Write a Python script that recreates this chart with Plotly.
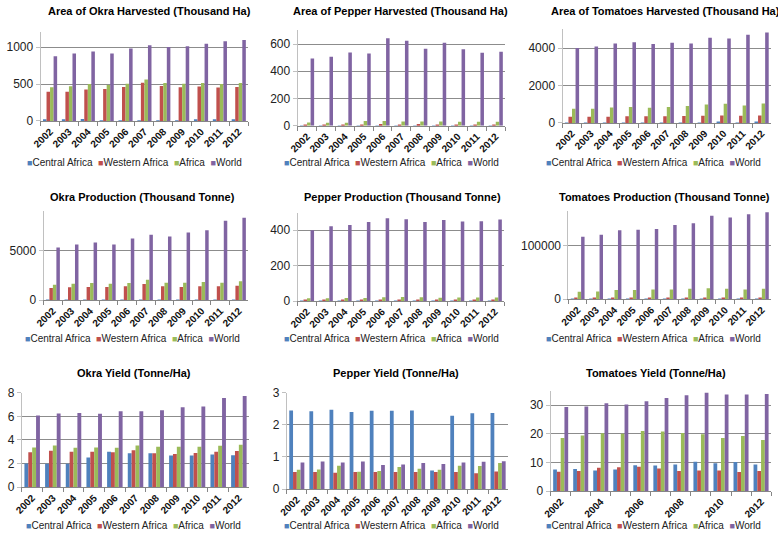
import plotly.graph_objects as go

W, H = 778, 538

years = ["2002", "2003", "2004", "2005", "2006", "2007", "2008", "2009", "2010", "2011", "2012"]
series_names = ["Central Africa", "Western Africa", "Africa", "World"]
colors = ["#4F81BD", "#C0504D", "#9BBB59", "#8064A2"]

# ---- Area harvested (Thousand Ha)
okra_area_central = [15, 15, 28, 3, 3, 3, 3, 3, 12, 12, 12]
okra_area_western = [395, 395, 425, 434, 460, 518, 474, 456, 465, 452, 460]
okra_area_africa = [456, 470, 500, 487, 504, 561, 513, 504, 513, 500, 513]
okra_area_world = [877, 912, 939, 912, 982, 1026, 1000, 1013, 1044, 1079, 1096]

pepper_area_central = [1, 1, 1, 1, 1, 1, 1, 1, 1, 1, 1]
pepper_area_western = [8, 8, 8, 8, 13, 8, 13, 8, 8, 8, 8]
pepper_area_africa = [24, 22, 23, 35, 36, 32, 32, 32, 30, 30, 30]
pepper_area_world = [493, 507, 538, 531, 643, 624, 565, 610, 562, 536, 543]

tomato_area_central = [20, 20, 20, 20, 20, 20, 20, 20, 50, 20, 50]
tomato_area_western = [330, 330, 330, 360, 360, 360, 370, 380, 400, 380, 400]
tomato_area_africa = [760, 760, 830, 850, 815, 850, 900, 990, 1020, 935, 1040]
tomato_area_world = [4000, 4090, 4240, 4310, 4225, 4280, 4240, 4550, 4520, 4710, 4830]

# ---- Production (Thousand Tonne)
okra_prod_central = [30, 30, 50, 10, 10, 10, 10, 10, 30, 30, 30]
okra_prod_western = [1225, 1290, 1325, 1325, 1390, 1620, 1390, 1325, 1390, 1390, 1460]
okra_prod_africa = [1556, 1655, 1720, 1655, 1720, 2050, 1755, 1755, 1820, 1755, 1890]
okra_prod_world = [5300, 5600, 5800, 5600, 6190, 6560, 6390, 6790, 7020, 7980, 8280]

pepper_prod_central = [1, 1, 1, 1, 1, 1, 1, 1, 1, 1, 1]
pepper_prod_western = [5, 5, 5, 5, 6, 5, 6, 5, 5, 5, 5]
pepper_prod_africa = [16, 16, 18, 18, 22, 23, 22, 19, 21, 21, 21]
pepper_prod_world = [400, 422, 429, 446, 468, 462, 446, 458, 449, 451, 460]

tomato_prod_central = [800, 800, 800, 800, 800, 800, 800, 800, 800, 800, 800]
tomato_prod_western = [2000, 2000, 2500, 2500, 2500, 2500, 2500, 2500, 2500, 2500, 2500]
tomato_prod_africa = [13940, 14545, 16970, 16970, 18180, 18180, 19390, 20600, 19390, 18180, 19390]
tomato_prod_world = [116360, 120000, 128480, 129100, 130900, 138180, 141200, 155150, 152120, 158180, 161800]

# ---- Yield (Tonne/Ha)
okra_yield_central = [2.01, 1.99, 1.99, 2.51, 3.0, 2.87, 2.87, 2.68, 2.68, 2.76, 2.70]
okra_yield_western = [2.95, 3.09, 3.0, 3.0, 2.95, 3.12, 2.87, 2.81, 2.9, 3.0, 3.06]
okra_yield_africa = [3.37, 3.53, 3.34, 3.37, 3.34, 3.53, 3.42, 3.42, 3.42, 3.50, 3.59]
okra_yield_world = [6.07, 6.23, 6.29, 6.21, 6.43, 6.43, 6.51, 6.76, 6.84, 7.56, 7.72]

pepper_yield_central = [2.45, 2.42, 2.47, 2.40, 2.44, 2.44, 2.45, 0.58, 2.28, 2.36, 2.37]
pepper_yield_western = [0.53, 0.53, 0.51, 0.53, 0.53, 0.53, 0.53, 0.53, 0.53, 0.49, 0.55]
pepper_yield_africa = [0.60, 0.61, 0.73, 0.54, 0.56, 0.69, 0.63, 0.60, 0.73, 0.72, 0.81]
pepper_yield_world = [0.83, 0.86, 0.83, 0.86, 0.75, 0.77, 0.81, 0.78, 0.83, 0.85, 0.87]

tomato_yield_central = [7.56, 7.67, 7.22, 7.56, 9.02, 8.91, 9.25, 10.26, 9.70, 10.15, 9.25]
tomato_yield_western = [6.77, 6.99, 8.12, 8.35, 8.46, 7.89, 6.99, 7.22, 7.22, 6.65, 6.99]
tomato_yield_africa = [18.5, 19.4, 20.2, 20.0, 21.0, 20.75, 20.3, 19.85, 18.5, 19.2, 17.8]
tomato_yield_world = [29.3, 29.5, 30.6, 30.2, 31.35, 32.5, 33.4, 34.3, 33.7, 33.7, 33.9]

tomato_yield_ticktext = ["2002", "", "2004", "", "2006", "", "2008", "", "2010", "", "2012"]

panels = [
    dict(title="Area of Okra Harvested (Thousand Ha)",
         data=[okra_area_central, okra_area_western, okra_area_africa, okra_area_world],
         yrange=[0, 1200], dtick=500, xpx=[32, 242], ypx=[26, 117], tx=142, ty=-4, tanchor="top", lx=127, ly=160),
    dict(title="Area of Pepper Harvested (Thousand Ha)",
         data=[pepper_area_central, pepper_area_western, pepper_area_africa, pepper_area_world],
         yrange=[0, 700], dtick=200, xpx=[292, 502], ypx=[24, 122], tx=396, ty=-4, tanchor="top", lx=387, ly=160),
    dict(title="Area of Tomatoes Harvested (Thousand Ha)",
         data=[tomato_area_central, tomato_area_western, tomato_area_africa, tomato_area_world],
         yrange=[0, 5000], dtick=2000, xpx=[560, 771], ypx=[23, 119], tx=664, ty=-4, tanchor="top", lx=652, ly=160),
    dict(title="Okra Production (Thousand Tonne)",
         data=[okra_prod_central, okra_prod_western, okra_prod_africa, okra_prod_world],
         yrange=[0, 9000], dtick=5000, xpx=[35, 242], ypx=[209, 301], tx=135, ty=195, tanchor="middle", lx=125, ly=340),
    dict(title="Pepper Production (Thousand Tonne)",
         data=[pepper_prod_central, pepper_prod_western, pepper_prod_africa, pepper_prod_world],
         yrange=[0, 500], dtick=200, xpx=[292, 501], ypx=[211, 302], tx=398, ty=195, tanchor="middle", lx=387, ly=340),
    dict(title="Tomatoes Production (Thousand Tonne)",
         data=[tomato_prod_central, tomato_prod_western, tomato_prod_africa, tomato_prod_world],
         yrange=[0, 165000], dtick=100000, xpx=[566, 771], ypx=[209, 300], tx=663, ty=195, tanchor="middle", lx=652, ly=340),
    dict(title="Okra Yield (Tonne/Ha)",
         data=[okra_yield_central, okra_yield_western, okra_yield_africa, okra_yield_world],
         yrange=[0, 8], dtick=2, xpx=[13, 243], ypx=[396, 493], tx=126, ty=376, tanchor="middle", lx=126, ly=532),
    dict(title="Pepper Yield (Tonne/Ha)",
         data=[pepper_yield_central, pepper_yield_western, pepper_yield_africa, pepper_yield_world],
         yrange=[0, 3], dtick=1, xpx=[281, 505], ypx=[396, 495], tx=392, ty=376, tanchor="middle", lx=387, ly=532),
    dict(title="Tomatoes Yield (Tonne/Ha)",
         data=[tomato_yield_central, tomato_yield_western, tomato_yield_africa, tomato_yield_world],
         yrange=[0, 35], dtick=10, xpx=[548, 771], ypx=[394, 497], tx=655, ty=376, tanchor="middle", lx=652, ly=532,
         ticktext=tomato_yield_ticktext),
]

FONT = "Liberation Sans, Arial, sans-serif"
fig = go.Figure()
layout = dict(
    width=W, height=H,
    margin=dict(l=0, r=0, t=0, b=0),
    paper_bgcolor="white", plot_bgcolor="white",
    barmode="group", bargap=0.25, bargroupgap=0.0,
    showlegend=False,
    font=dict(family=FONT, color="#222222"),
)
annotations = []

for i, p in enumerate(panels, start=1):
    suffix = "" if i == 1 else str(i)
    for name, vals, col in zip(series_names, p["data"], colors):
        fig.add_trace(go.Bar(
            x=years, y=vals, name=name, marker=dict(color=col, line=dict(width=0)),
            xaxis="x" + suffix, yaxis="y" + suffix, showlegend=False,
        ))
    xax = dict(
        domain=[p["xpx"][0] / W, p["xpx"][1] / W], anchor="y" + suffix,
        type="category", showline=True, linecolor="#868686", linewidth=1,
        ticks="outside", ticklen=4, tickcolor="#868686", tickson="boundaries",
        tickangle=-45, tickfont=dict(size=10, family=FONT, color="#111111", weight="bold"),
        showgrid=False,
    )
    if "ticktext" in p:
        xax.update(tickmode="array", tickvals=years, ticktext=p["ticktext"])
    yax = dict(
        domain=[1 - p["ypx"][1] / H, 1 - p["ypx"][0] / H], anchor="x" + suffix,
        range=p["yrange"], dtick=p["dtick"], tick0=0, tickformat="d",
        showline=True, linecolor="#C0C0C0", linewidth=1,
        ticks="outside", ticklen=4, tickcolor="#C0C0C0",
        showgrid=True, gridcolor="#8C8C8C", gridwidth=1, zeroline=False,
        tickfont=dict(size=12, family=FONT, color="#222222"),
    )
    layout["xaxis" + suffix] = xax
    layout["yaxis" + suffix] = yax

    annotations.append(dict(
        text=p["title"], x=p["tx"] / W, y=1 - p["ty"] / H, xref="paper", yref="paper",
        xanchor="center", yanchor=p["tanchor"], showarrow=False,
        font=dict(size=11, family=FONT, color="#000000", weight="bold"),
    ))
    legend_html = "".join(
        '<span style="color:%s;font-size:9px">■</span>%s%s' % (c, n, "  " if k < 3 else "")
        for k, (n, c) in enumerate(zip(series_names, colors))
    )
    annotations.append(dict(
        text=legend_html, x=p["lx"] / W, y=1 - p["ly"] / H, xref="paper", yref="paper",
        xanchor="center", yanchor="middle", showarrow=False,
        font=dict(size=10, family=FONT, color="#222222"),
    ))

layout["annotations"] = annotations
fig.update_layout(**layout)
fig.write_html(
    "out.html",
    config={"displayModeBar": False},
    post_script=(
        "document.documentElement.style.margin='0';"
        "document.body.style.margin='0';"
        "document.body.style.overflow='hidden';"
        "document.documentElement.style.overflow='hidden';"
    ),
)
